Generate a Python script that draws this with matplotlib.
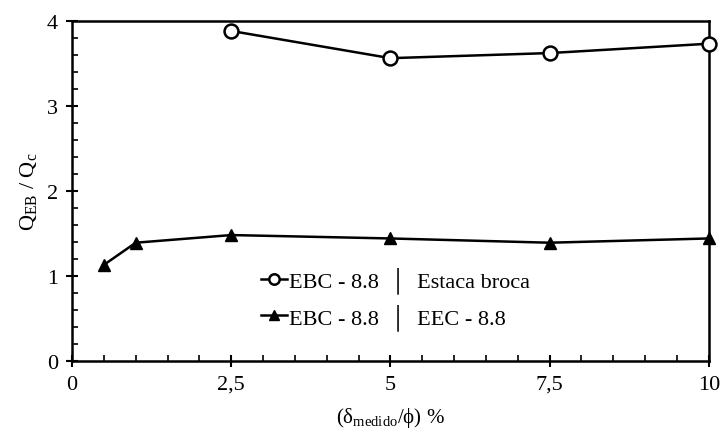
import matplotlib
matplotlib.use('Agg')
import matplotlib.pyplot as plt
from matplotlib.ticker import MultipleLocator, FuncFormatter

plt.rcParams['font.family'] = ['Liberation Serif', 'DejaVu Serif']
plt.rcParams['mathtext.fontset'] = 'custom'
plt.rcParams['mathtext.rm'] = 'Liberation Serif'
plt.rcParams['mathtext.it'] = 'Liberation Serif'

# dados
x_broca = [2.5, 5, 7.5, 10]
y_broca = [3.88, 3.56, 3.62, 3.73]
x_eec = [0.5, 1, 2.5, 5, 7.5, 10]
y_eec = [1.13, 1.39, 1.48, 1.44, 1.39, 1.44]
lab_broca = 'EBC - 8.8  │  Estaca broca'
lab_eec = 'EBC - 8.8  │  EEC - 8.8'

fig, ax = plt.subplots(figsize=(7.21, 4.35), dpi=100)
fig.subplots_adjust(left=0.1, right=0.983, top=0.95, bottom=0.168)

ax.plot(x_broca, y_broca, '-o', color='black', lw=1.8, ms=10,
        mfc='white', mec='black', mew=1.8, label=lab_broca, clip_on=False, zorder=3)
ax.plot(x_eec, y_eec, '-^', color='black', lw=1.8, ms=9,
        mfc='black', label=lab_eec, clip_on=False, zorder=3)

ax.set_xlim(0, 10)
ax.set_ylim(0, 4)
ax.xaxis.set_major_locator(MultipleLocator(2.5))
ax.xaxis.set_minor_locator(MultipleLocator(0.5))
ax.yaxis.set_major_locator(MultipleLocator(1))
ax.yaxis.set_minor_locator(MultipleLocator(0.2))
ax.xaxis.set_major_formatter(FuncFormatter(lambda v, p: ('%g' % v).replace('.', ',')))
ax.tick_params(which='major', direction='inout', length=8, width=1.5, labelsize=16, pad=6)
ax.tick_params(which='minor', direction='in', length=4, width=1.2)
for s in ax.spines.values():
    s.set_linewidth(1.8)

ax.set_xlabel(r'($\delta_{\mathrm{medido}}$/ϕ) %', fontsize=15, labelpad=8)
ax.set_ylabel(r'$\mathrm{Q_{EB}}$ / $\mathrm{Q_{c}}$', fontsize=16, labelpad=6)

ax.legend(loc='center left', bbox_to_anchor=(0.265, 0.185), frameon=False, fontsize=16,
          handlelength=1.2, handletextpad=0.05, labelspacing=0.45, markerscale=0.75)

plt.savefig('out.png')
